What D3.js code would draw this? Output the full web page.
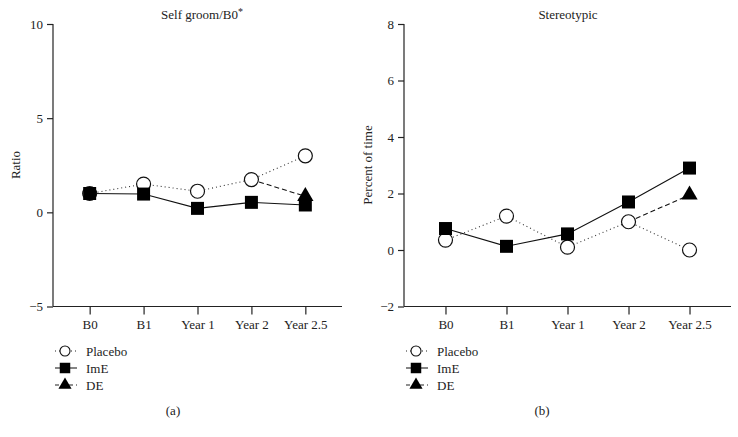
<!DOCTYPE html>
<html><head><meta charset="utf-8">
<script src="https://cdn.jsdelivr.net/npm/d3@7"></script>
<style>
body{margin:0;background:#fff;}
svg text{font-family:"Liberation Serif","Times New Roman",serif;font-size:13px;fill:#222;}
</style></head>
<body><svg id="c" width="738" height="437"></svg>
<script>
const categories = ["B0","B1","Year 1","Year 2","Year 2.5"];
// Panel (a): Self groom / B0
const groomPlacebo = [1.0, 1.5, 1.12, 1.74, 3.0];
const groomImE     = [1.0, 0.97, 0.21, 0.53, 0.39];
const groomDE      = [null, null, null, 1.74, 0.85];
const groomTicks   = [-5, 0, 5, 10];
// Panel (b): Stereotypic
const stereoPlacebo = [0.35, 1.2, 0.1, 1.0, 0.0];
const stereoImE     = [0.76, 0.13, 0.57, 1.7, 2.9];
const stereoDE      = [null, null, null, 1.0, 1.95];
const stereoTicks   = [-2, 0, 2, 4, 6, 8];

const svg = d3.select("#c");

function panel(cfg){
  const g = svg.append("g");
  const x = d3.scalePoint().domain(categories).range([cfg.x0, cfg.x1]).padding(0.68);
  const y = d3.scaleLinear().domain(cfg.domain).range([306.5, 24]);
  // axes
  const ya = g.append("g").attr("transform",`translate(${cfg.x0},0)`)
    .call(d3.axisLeft(y).tickValues(cfg.ticks).tickSize(6).tickPadding(4));
  const xa = g.append("g").attr("transform",`translate(0,306.5)`)
    .call(d3.axisBottom(x).tickSize(8).tickPadding(5));
  [ya, xa].forEach(a=>{
    a.select(".domain").attr("stroke","#222").attr("stroke-width",1.2);
    a.selectAll(".tick line").attr("stroke","#222").attr("stroke-width",1.2);
    a.selectAll("text").attr("font-size",13).attr("font-family",null).attr("fill","#222");
  });
  xa.select(".domain").attr("d",`M${cfg.x0},0H${cfg.x1}`);
  ya.select(".domain").attr("d",`M0,${y(cfg.domain[1])}V${y(cfg.domain[0])}`);
  // titles
  const t = g.append("text").attr("x",cfg.titleX).attr("y",19).attr("text-anchor","middle").text(cfg.title);
  if(cfg.star) t.append("tspan").attr("dy",-4).attr("font-size",10).text("*");
  g.append("text").attr("transform",`translate(${cfg.ylabX},165) rotate(-90)`)
    .attr("text-anchor","middle").attr("dy","0.35em").text(cfg.ylab);
  g.append("text").attr("x",cfg.subX).attr("y",410).attr("text-anchor","middle").attr("dy","0.35em").text(cfg.sub);

  const line = d3.line().defined(d=>d!=null).x((d,i)=>x(categories[i])).y(d=>y(d));
  g.append("path").attr("d",line(cfg.placebo)).attr("fill","none").attr("stroke","#333")
    .attr("stroke-width",1.1).attr("stroke-dasharray","1,3");
  g.append("path").attr("d",line(cfg.ime)).attr("fill","none").attr("stroke","#111").attr("stroke-width",1.1);
  g.append("path").attr("d",line(cfg.de)).attr("fill","none").attr("stroke","#111")
    .attr("stroke-width",1.1).attr("stroke-dasharray","5,3");

  g.selectAll(".pc").data(cfg.placebo).enter().append("circle")
    .attr("cx",(d,i)=>x(categories[i])).attr("cy",d=>y(d)).attr("r",7)
    .attr("fill","#fff").attr("stroke","#111").attr("stroke-width",1.2);
  const sq = d3.symbol().type(d3.symbolSquare).size(169);
  g.selectAll(".sq").data(cfg.ime).enter().append("path").attr("d",sq)
    .attr("transform",(d,i)=>`translate(${x(categories[i])},${y(d)})`).attr("fill","#000");
  const tri = d3.symbol().type(d3.symbolTriangle).size(115);
  g.selectAll(".tr").data(cfg.de.map((d,i)=>[d,i]).filter(d=>d[0]!=null && d[1]===4)).enter().append("path").attr("d",tri)
    .attr("transform",d=>`translate(${x(categories[d[1]])},${y(d[0])})`).attr("fill","#000");

  // legend
  const lx = cfg.x0;
  const rows = [
    {name:"Placebo", y:351, dash:"1,3", sym:"c"},
    {name:"ImE", y:368, dash:null, sym:"s"},
    {name:"DE", y:385, dash:"4,3", sym:"t"}
  ];
  rows.forEach(r=>{
    const ln = g.append("line").attr("x1",lx+2).attr("x2",lx+24).attr("y1",r.y).attr("y2",r.y)
      .attr("stroke","#222").attr("stroke-width",1.1);
    if(r.dash) ln.attr("stroke-dasharray",r.dash);
    if(r.sym==="c") g.append("circle").attr("cx",lx+12).attr("cy",r.y).attr("r",5)
      .attr("fill","#fff").attr("stroke","#111").attr("stroke-width",1.1);
    if(r.sym==="s") g.append("path").attr("d",d3.symbol().type(d3.symbolSquare).size(110))
      .attr("transform",`translate(${lx+12},${r.y})`).attr("fill","#000");
    if(r.sym==="t") g.append("path").attr("d",d3.symbol().type(d3.symbolTriangle).size(75))
      .attr("transform",`translate(${lx+12},${r.y})`).attr("fill","#000");
    g.append("text").attr("x",lx+33).attr("y",r.y).attr("dy","0.35em").text(r.name);
  });
}

panel({x0:53, x1:342, domain:[-5,10], ticks:groomTicks, title:"Self groom/B0", star:true,
  titleX:202, ylab:"Ratio", ylabX:15, sub:"(a)", subX:173,
  placebo:groomPlacebo, ime:groomImE, de:groomDE});
panel({x0:404, x1:731, domain:[-2,8], ticks:stereoTicks, title:"Stereotypic", star:false,
  titleX:568, ylab:"Percent of time", ylabX:367, sub:"(b)", subX:542,
  placebo:stereoPlacebo, ime:stereoImE, de:stereoDE});
</script></body></html>
